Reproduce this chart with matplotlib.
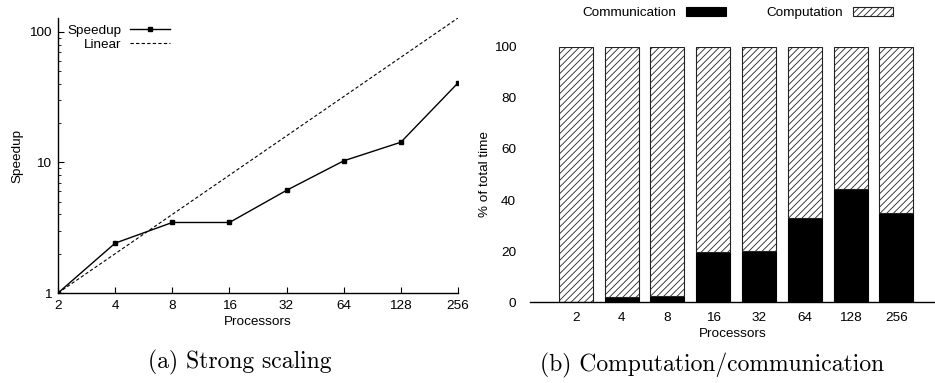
import matplotlib
matplotlib.use("Agg")
import matplotlib.pyplot as plt
from matplotlib.patches import Patch
from matplotlib.ticker import FixedLocator, LogLocator, NullFormatter

plt.rcParams['font.family'] = ['Liberation Sans', 'DejaVu Sans']
plt.rcParams['hatch.linewidth'] = 0.6

processors = [2, 4, 8, 16, 32, 64, 128, 256]
proc_labels = ["2", "4", "8", "16", "32", "64", "128", "256"]
speedup = [1.0, 2.41, 3.47, 3.47, 6.12, 10.3, 14.3, 40.7]
linear = [1, 2, 4, 8, 16, 32, 64, 128]
communication = [0.0, 2.0, 2.6, 19.6, 20.2, 32.9, 44.2, 34.8]
computation = [100 - c for c in communication]

W, H = 935, 383
fig = plt.figure(figsize=(W / 100, H / 100), dpi=100)

fs = 9.7

# ---- (a) Strong scaling ----
ax1 = fig.add_axes([58 / W, 1 - 293 / H, 400 / W, 275 / H])
ax1.plot(processors, speedup, color='black', lw=1.0, marker='s', ms=2.6,
         label='Speedup')
ax1.plot(processors, linear, color='black', lw=0.8, ls=(0, (3, 2)),
         label='Linear')
ax1.set_xscale('log', base=2)
ax1.set_yscale('log')
ax1.set_xlim(2, 256)
ax1.set_ylim(1, 128)
ax1.xaxis.set_major_locator(FixedLocator(processors))
ax1.set_xticklabels(proc_labels)
ax1.xaxis.set_minor_locator(FixedLocator([]))
ax1.set_yticks([1, 10, 100])
ax1.set_yticklabels(["1", "10", "100"])
ax1.yaxis.set_minor_locator(LogLocator(base=10, subs=range(2, 10)))
ax1.yaxis.set_minor_formatter(NullFormatter())
ax1.tick_params(which='major', direction='in', length=4, width=0.8,
                labelsize=fs, pad=5)
ax1.tick_params(which='minor', direction='in', length=2.5, width=0.6)
for s in ['top', 'right']:
    ax1.spines[s].set_visible(False)
for s in ['left', 'bottom']:
    ax1.spines[s].set_linewidth(1.0)
ax1.set_xlabel('Processors', fontsize=fs, labelpad=3)
ax1.set_ylabel('Speedup', fontsize=fs, labelpad=4)
ax1.legend(loc='upper left', bbox_to_anchor=(0.0, 1.01), frameon=False,
           markerfirst=False, fontsize=fs, handlelength=3.0,
           labelspacing=0.1, borderaxespad=0.3, handletextpad=0.6)

fig.text(240 / W, 1 - 362 / H, '(a) Strong scaling', family='cmr10',
         fontsize=17, ha='center', va='center')

# ---- (b) Computation/communication ----
ax2 = fig.add_axes([530 / W, 1 - 302.3 / H, 405 / W, 255.6 / H])
pos = list(range(1, len(processors) + 1))
ax2.bar(pos, communication, width=0.74, color='black', edgecolor='black',
        lw=0.8)
ax2.bar(pos, computation, bottom=communication, width=0.74, color='white',
        edgecolor='#222222', hatch='/////', lw=0.8)
ax2.set_xlim(0, 405 / 45.8)
ax2.set_ylim(0, 100)
ax2.set_xticks(pos)
ax2.set_xticklabels(proc_labels)
ax2.set_yticks([0, 20, 40, 60, 80, 100])
ax2.tick_params(axis='x', length=0, labelsize=fs, pad=7)
ax2.tick_params(axis='y', length=0, labelsize=fs, pad=10)
for s in ['top', 'right', 'left']:
    ax2.spines[s].set_visible(False)
ax2.spines['bottom'].set_linewidth(1.0)
ax2.set_xlabel('Processors', fontsize=fs, labelpad=3)
ax2.set_ylabel('% of total time', fontsize=fs, labelpad=2)

handles = [Patch(facecolor='black', edgecolor='black', lw=0.8),
           Patch(facecolor='white', edgecolor='#222222', hatch='/////',
                 lw=0.8)]
fig.legend(handles, ['Communication', 'Computation'], loc='center',
           bbox_to_anchor=(738 / W, 1 - 13 / H), ncol=2, frameon=False,
           markerfirst=False, fontsize=fs, handlelength=3.0,
           handleheight=0.6, columnspacing=3.0, handletextpad=0.7)

fig.text(712 / W, 1 - 365 / H, '(b) Computation/communication',
         family='cmr10', fontsize=17, ha='center', va='center')

fig.savefig('out.png', dpi=100)
